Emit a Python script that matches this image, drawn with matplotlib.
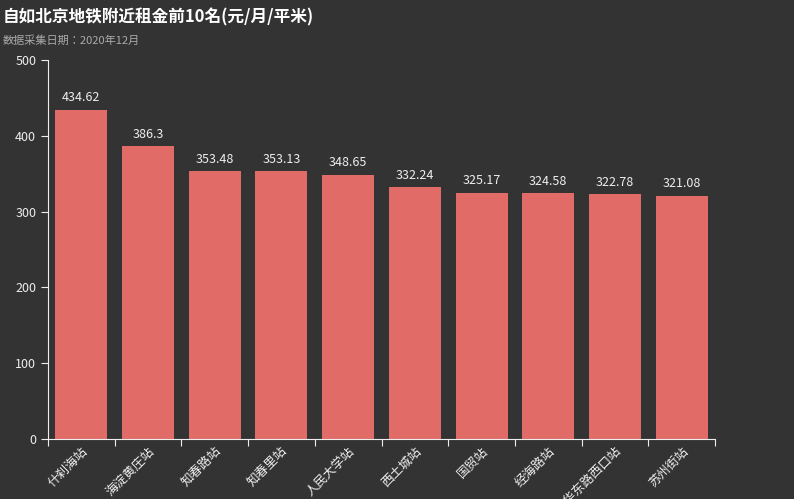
import matplotlib.pyplot as plt

plt.rcParams['font.family'] = ['Noto Sans CJK JP', 'Noto Sans CJK SC', 'DejaVu Sans']

stations = ['什刹海站', '海淀黄庄站', '知春路站', '知春里站', '人民大学站',
            '西土城站', '国贸站', '经海路站', '光华东路西口站', '苏州街站']
rents = [434.62, 386.3, 353.48, 353.13, 348.65, 332.24, 325.17, 324.58, 322.78, 321.08]
yticks = [0, 100, 200, 300, 400, 500]

bg = '#333333'
fig = plt.figure(figsize=(7.94, 4.99), dpi=100, facecolor=bg)
ax = fig.add_axes([48 / 794, 60 / 499, 667 / 794, 379 / 499], facecolor=bg)

x = range(len(stations))
ax.bar(x, rents, width=0.78, color='#e06b67')
for xi, v in zip(x, rents):
    ax.text(xi, v + 7, f'{v:g}', ha='center', va='bottom', color='#eeeeee', fontsize=9)

ax.set_xlim(-0.5, len(stations) - 0.5)
ax.set_ylim(0, 500)
ax.set_yticks(yticks)
ax.set_xticks([i - 0.5 for i in range(len(stations) + 1)], minor=False)
ax.set_xticklabels([])
ax.set_xticks(list(x), minor=True)
ax.set_xticklabels(stations, minor=True, rotation=45, ha='right', rotation_mode='anchor',
                   color='#eeeeee', fontsize=9)
ax.tick_params(axis='x', which='minor', length=0, pad=4)
ax.tick_params(axis='x', which='major', length=5, color='#eeeeee')
ax.tick_params(axis='y', colors='#eeeeee', labelsize=9, length=5)
for s in ['top', 'right']:
    ax.spines[s].set_visible(False)
for s in ['left', 'bottom']:
    ax.spines[s].set_color('#eeeeee')

fig.text(0.003, 0.965, '自如北京地铁附近租金前10名(元/月/平米)', color='white',
         fontsize=12, fontweight='bold', va='center')
fig.text(0.003, 0.918, '数据采集日期：2020年12月', color='#aaaaaa', fontsize=8, va='center')

fig.savefig('out.png', facecolor=bg)
